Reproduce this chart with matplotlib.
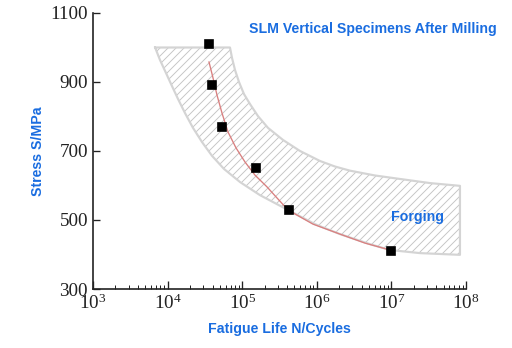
import math
import matplotlib
matplotlib.use("Agg")
import matplotlib.pyplot as plt
from matplotlib.ticker import FixedLocator, FuncFormatter, LogLocator, NullFormatter

# ---- data ----
cycles = [35900, 39400, 53600, 153000, 424000, 1.0e7]
stress = [1010, 890, 770, 650, 530, 410]

fit_cycles = [35890, 40610, 45940, 53600, 64540, 82600, 109100, 148500, 214900, 292500,
              411000, 889000, 2.05e6, 4.43e6, 9.58e6]
fit_stress = [958, 912, 862, 810, 755, 709, 668, 630, 596, 564, 529, 488, 459, 433, 413]

band_upper_n = [6800, 68600, 72990, 80050, 90600, 105700, 127300, 162900, 221800, 352300,
                595700, 1.104e6, 1.754e6, 2.786e6, 6.03e6, 1.30e7, 3.29e7, 8.3e7]
band_upper_s = [1000, 1000, 970, 935, 900, 865, 836, 801, 767, 732, 700, 671, 655, 643,
                629, 619, 607, 599]
band_lower_n = [6800, 7900, 9520, 11460, 13780, 17110, 21900, 28920, 39380, 57020, 93500,
                173300, 411000, 946000, 2.05e6, 5.16e6, 9.58e6, 2.42e7, 8.3e7]
band_lower_s = [1000, 964, 926, 888, 851, 810, 767, 726, 686, 648, 610, 572, 529, 488, 459,
                430, 413, 404, 399]

y_ticks = [300, 500, 700, 900, 1100]
x_decades = [3, 4, 5, 6, 7, 8]

blue = "#1a6de0"

plt.rcParams["font.family"] = ["Liberation Serif", "DejaVu Serif"]
plt.rcParams["mathtext.fontset"] = "custom"
plt.rcParams["mathtext.rm"] = "Liberation Serif"
plt.rcParams["hatch.linewidth"] = 0.55

dpi = 120
fig = plt.figure(figsize=(512 / dpi, 348 / dpi), dpi=dpi)
ax = fig.add_axes([93 / 512, 1 - 289 / 348, (466 - 93) / 512, (289 - 13) / 348])

# band polygon
poly_n = band_upper_n + band_lower_n[::-1]
poly_s = band_upper_s + band_lower_s[::-1]
ax.fill(poly_n, poly_s, facecolor="none", edgecolor="#c4c4c4", hatch="/////", linewidth=0)
ax.plot(poly_n + [poly_n[0]], poly_s + [poly_s[0]], color="#d4d4d4", lw=1.3, solid_joinstyle="round")

ax.plot(fit_cycles, fit_stress, color="#d98080", lw=0.8)
ax.plot(cycles, stress, ls="none", marker="s", ms=5, color="black", mec="black")

ax.set_xscale("log")
ax.set_xlim(10 ** x_decades[0], 10 ** x_decades[-1])
ax.set_ylim(y_ticks[0], y_ticks[-1])

ax.xaxis.set_major_locator(FixedLocator([10.0 ** d for d in x_decades]))
ax.xaxis.set_major_formatter(FuncFormatter(lambda v, p: r"$\mathregular{10^{%d}}$" % round(math.log10(v))))
ax.xaxis.set_minor_locator(LogLocator(base=10, subs=range(2, 10), numticks=20))
ax.xaxis.set_minor_formatter(NullFormatter())
ax.yaxis.set_major_locator(FixedLocator(y_ticks))

for s in ["top", "right"]:
    ax.spines[s].set_visible(False)
for s in ["left", "bottom"]:
    ax.spines[s].set_linewidth(1.0)
    ax.spines[s].set_color("#222222")

ax.tick_params(axis="both", which="major", direction="in", labelsize=11.5, colors="#222222", pad=3)
ax.tick_params(axis="x", which="major", length=5)
ax.tick_params(axis="y", which="major", length=4)
ax.tick_params(axis="x", which="minor", direction="in", length=2.5, color="#222222")

ax.set_xlabel("Fatigue Life N/Cycles", family="Liberation Sans", weight="bold", color=blue, fontsize=8.5, labelpad=5)
ax.set_ylabel("Stress S/MPa", family="Liberation Sans", weight="bold", color=blue, fontsize=8.5, labelpad=3)

ax.text(0.751, 0.942, "SLM Vertical Specimens After Milling", transform=ax.transAxes, ha="center", va="center",
        family="Liberation Sans", weight="bold", color=blue, fontsize=8.5)
ax.text(0.869, 0.261, "Forging", transform=ax.transAxes, ha="center", va="center",
        family="Liberation Sans", weight="bold", color=blue, fontsize=8.5)

fig.savefig("out.png", dpi=dpi)
